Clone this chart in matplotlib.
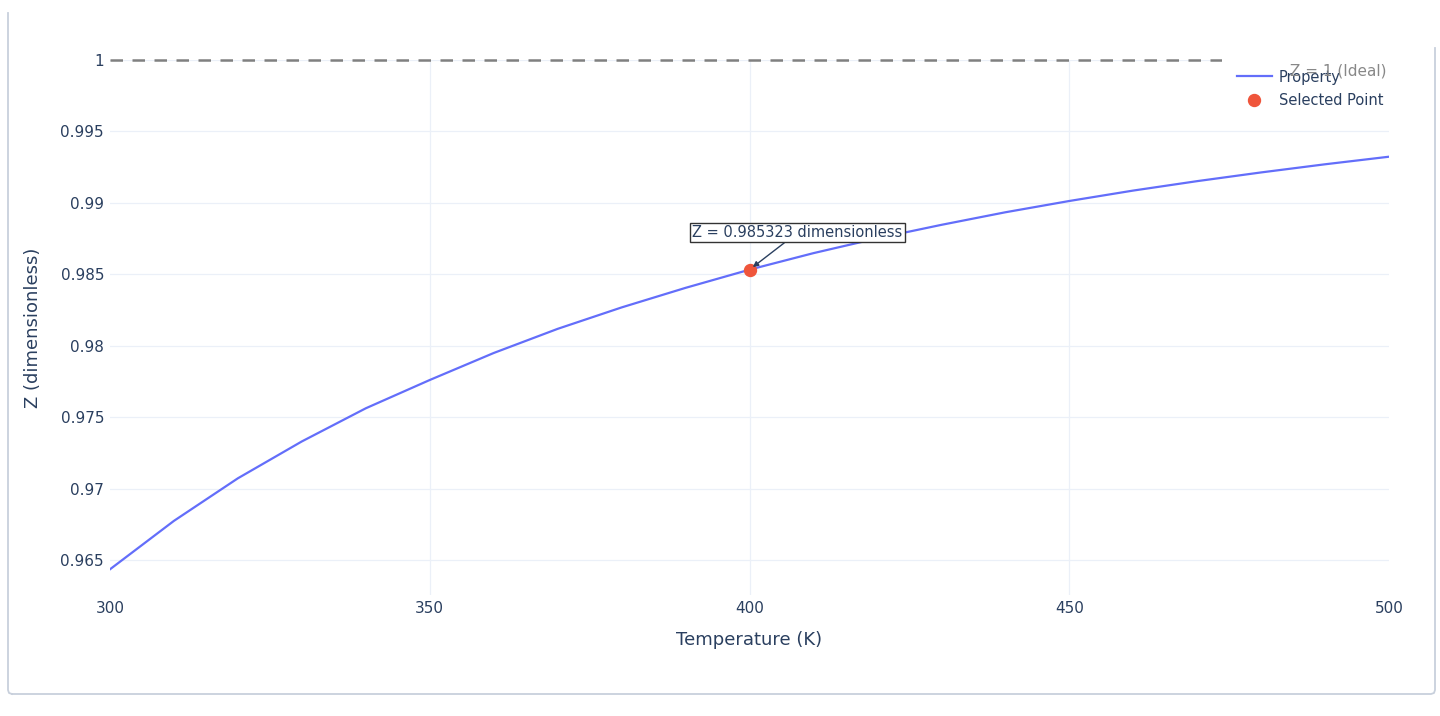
import matplotlib
matplotlib.use('Agg')
import matplotlib.pyplot as plt
from matplotlib.lines import Line2D

# ---- data ----
temperature = [300, 310, 320, 330, 340, 350, 360, 370, 380, 390, 400,
               410, 420, 430, 440, 450, 460, 470, 480, 490, 500]
z_values = [0.96435, 0.96774, 0.97072, 0.97330, 0.97562, 0.97760, 0.97949,
            0.98118, 0.98268, 0.98405, 0.985323, 0.98648, 0.98752, 0.98846,
            0.98934, 0.99013, 0.99086, 0.99152, 0.99213, 0.99270, 0.99323]
selected_T = 400
selected_Z = 0.985323
ideal_Z = 1.0
x_ticks = [300, 350, 400, 450, 500]
y_ticks = [0.965, 0.97, 0.975, 0.98, 0.985, 0.99, 0.995, 1.0]
y_tick_labels = ['0.965', '0.97', '0.975', '0.98', '0.985', '0.99', '0.995', '1']
x_range = (300, 500)
y_range = (0.96255, 1.0)

TEXT = '#2a3f5f'
GRID = '#EBF0F8'

W, H = 1440, 716
fig = plt.figure(figsize=(W / 100, H / 100), dpi=100)
fig.patch.set_facecolor('white')

L, R, T, B = 110, 1389, 60, 595
ax = fig.add_axes([L / W, 1 - B / H, (R - L) / W, (B - T) / H])
ax.set_xlim(*x_range)
ax.set_ylim(*y_range)
for s in ax.spines.values():
    s.set_visible(False)

ax.set_xticks(x_ticks)
ax.set_yticks(y_ticks, labels=y_tick_labels)
ax.tick_params(axis='both', length=0, labelsize=11, labelcolor=TEXT)
ax.tick_params(axis='y', pad=4.3)
ax.tick_params(axis='x', pad=4)
ax.grid(True, color=GRID, linewidth=0.9, zorder=0)
ax.set_axisbelow(True)
xg = ax.xaxis.get_gridlines()
xg[0].set_visible(False)
xg[-1].set_visible(False)

# ideal line
ax.axhline(ideal_Z, color='#808080', linewidth=1.8, dashes=(5.0, 3.8),
           clip_on=False, zorder=2)

# property curve
ax.plot(temperature, z_values, color='#636efa', linewidth=1.6,
        label='Property', zorder=3)
# selected point
ax.plot([selected_T], [selected_Z], linestyle='none', marker='o',
        markersize=8.6, color='#ef553b', label='Selected Point', zorder=4)

# annotation for selected point
ax.annotate(f'Z = {selected_Z} dimensionless', xy=(selected_T, selected_Z),
            xytext=(48, 37), textcoords='offset pixels', ha='center',
            va='center', fontsize=10.5, color=TEXT, zorder=6,
            bbox=dict(boxstyle='square,pad=0.15', fc='white', ec='#333333',
                      lw=1.0),
            arrowprops=dict(arrowstyle='-|>', color=TEXT, lw=1.0,
                            shrinkA=0, shrinkB=3, mutation_scale=8))

# axis titles
ax.set_xlabel('Temperature (K)', fontsize=13, color=TEXT)
ax.set_ylabel('Z (dimensionless)', fontsize=13, color=TEXT)
ax.xaxis.set_label_coords(0.5, (B - 640) / (B - T))
ax.xaxis.label.set_va('center')
ax.yaxis.set_label_coords((33 - L) / (R - L), 0.5)
ax.yaxis.label.set_va('center')

# legend
leg = ax.legend(loc='upper left', bbox_to_anchor=(1222 / W, 1 - 55 / H),
                bbox_transform=fig.transFigure, borderaxespad=0,
                fontsize=10.5, frameon=True, fancybox=False,
                facecolor='white', edgecolor='none', framealpha=1.0,
                handlelength=2.4, handletextpad=0.48, borderpad=1.0,
                labelspacing=0.56)
for t in leg.get_texts():
    t.set_color(TEXT)
leg.set_zorder(5)

# ideal line label (drawn above the legend)
ax.text(1387 / W, 1 - 71 / H, 'Z = 1 (Ideal)', transform=fig.transFigure,
        ha='right', va='center', fontsize=11, color='#888888', zorder=10)

# card border
bc = '#c8d0dc'
def fx(px):
    return px / W
def fy(py):
    return 1 - py / H
fig.add_artist(Line2D([fx(8), fx(8), fx(9), fx(12)],
                      [fy(13), fy(690), fy(693), fy(694)],
                      color=bc, lw=1.3, transform=fig.transFigure))
fig.add_artist(Line2D([fx(12), fx(1431), fx(1434), fx(1435), fx(1435)],
                      [fy(694), fy(694), fy(693), fy(690), fy(48)],
                      color=bc, lw=1.3, transform=fig.transFigure))

fig.savefig('out.png', dpi=100, facecolor='white')
